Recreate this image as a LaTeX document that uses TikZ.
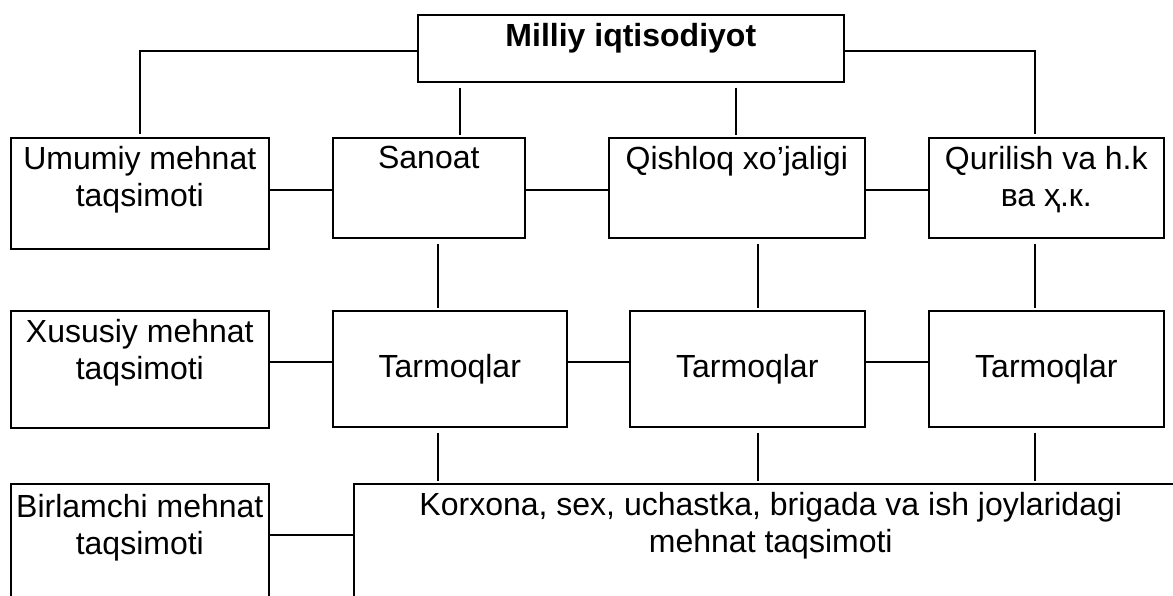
\documentclass[tikz,border=0pt]{standalone}
\usepackage{fontspec}
\setmainfont{Liberation Sans}
\usetikzlibrary{calc}

\begin{document}
\begin{tikzpicture}[x=1pt, y=-1pt,
  box/.style={draw, line width=1.6pt, anchor=north west, inner sep=0pt, font=\fontsize{32}{37}\selectfont},
  txt/.style={anchor=north, inner sep=0pt, align=center, yshift=-9pt, font=\fontsize{32}{37}\selectfont},
  link/.style={line width=1.4pt},
  vlink/.style={line width=1.4pt, shorten <=5pt, shorten >=2pt}]
  \useasboundingbox (0,0) rectangle (1173,595);
  \clip (0,0) rectangle (1173,595);

  \node[box, minimum width=426pt, minimum height=67pt, label={[txt, font=\bfseries\fontsize{32}{37}\selectfont]north:Milliy iqtisodiyot}] (milliy) at (417,14) {};

  \node[box, minimum width=258pt, minimum height=111pt, label={[txt]north:Umumiy mehnat\\taqsimoti}] (umumiy) at (10,137) {};
  \node[box, minimum width=192pt, minimum height=100pt, label={[txt]north:Sanoat}] (sanoat) at (332,137) {};
  \node[box, minimum width=256pt, minimum height=100pt, label={[txt]north:Qishloq xo’jaligi}] (qishloq) at (608,137) {};
  \node[box, minimum width=235pt, minimum height=100pt, label={[txt]north:Qurilish va h.k\\ва ҳ.к.}] (qurilish) at (928,137) {};

  \node[box, minimum width=258pt, minimum height=117pt, label={[txt]north:Xususiy mehnat\\taqsimoti}] (xususiy) at (10,310) {};
  \node[box, minimum width=234pt, minimum height=116pt] (tarm1) at (332,310) {Tarmoqlar};
  \node[box, minimum width=235pt, minimum height=116pt] (tarm2) at (629,310) {Tarmoqlar};
  \node[box, minimum width=235pt, minimum height=116pt] (tarm3) at (928,310) {Tarmoqlar};

  \node[box, minimum width=258pt, minimum height=140pt, label={[txt, yshift=-2pt]north:Birlamchi mehnat\\taqsimoti}] (birlamchi) at (10,483) {};
  \node[box, minimum width=834pt, minimum height=140pt, label={[txt]north:Korxona, sex, uchastka, brigada va ish joylaridagi\\mehnat taqsimoti}] (korxona) at (353,483) {};

  \coordinate (ltop) at (140,51);
  \coordinate (rtop) at (1035,51);
  \coordinate (r1) at (0,190);
  \coordinate (r2) at (0,362);
  \coordinate (r3) at (0,535);
  \coordinate (c1) at (460,0);
  \coordinate (c2) at (736,0);
  \coordinate (c3) at (438,0);
  \coordinate (c4) at (758,0);

  \draw[link, shorten >=3pt] (milliy.west |- ltop) -- (ltop) -- (ltop |- umumiy.north);
  \draw[link, shorten >=3pt] (milliy.east |- rtop) -- (rtop) -- (rtop |- qurilish.north);
  \draw[vlink] (milliy.south -| c1) -- (sanoat.north -| c1);
  \draw[vlink] (milliy.south -| c2) -- (qishloq.north -| c2);

  \draw[link] (umumiy.east |- r1) -- (sanoat.west |- r1);
  \draw[link] (sanoat.east |- r1) -- (qishloq.west |- r1);
  \draw[link] (qishloq.east |- r1) -- (qurilish.west |- r1);

  \draw[vlink] (sanoat.south -| c3) -- (tarm1.north -| c3);
  \draw[vlink] (qishloq.south -| c4) -- (tarm2.north -| c4);
  \draw[vlink] (qurilish.south -| rtop) -- (tarm3.north -| rtop);

  \draw[link] (xususiy.east |- r2) -- (tarm1.west |- r2);
  \draw[link] (tarm1.east |- r2) -- (tarm2.west |- r2);
  \draw[link] (tarm2.east |- r2) -- (tarm3.west |- r2);

  \draw[vlink] (tarm1.south -| c3) -- (korxona.north -| c3);
  \draw[vlink] (tarm2.south -| c4) -- (korxona.north -| c4);
  \draw[vlink] (tarm3.south -| rtop) -- (korxona.north -| rtop);

  \draw[link] (birlamchi.east |- r3) -- (korxona.west |- r3);
\end{tikzpicture}
\end{document}
